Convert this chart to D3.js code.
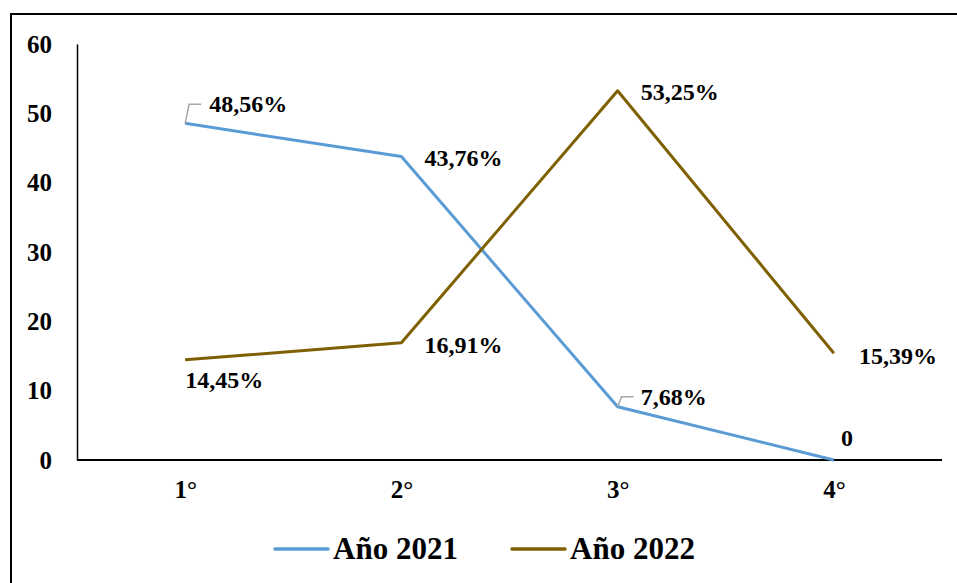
<!DOCTYPE html>
<html><head><meta charset="utf-8">
<script src="https://cdn.jsdelivr.net/npm/d3@7"></script>
<style>
html,body{margin:0;padding:0;background:#fff;}
svg{display:block;font-family:"Liberation Serif","Times New Roman",serif;font-weight:bold;}
</style></head>
<body>
<svg id="chart" width="957" height="583"></svg>
<script>
const categories = ["1°", "2°", "3°", "4°"];
const values2021 = [48.56, 43.76, 7.68, 0];
const values2022 = [14.45, 16.91, 53.25, 15.39];
const labels2021 = ["48,56%", "43,76%", "7,68%", "0"];
const labels2022 = ["14,45%", "16,91%", "53,25%", "15,39%"];
const yTicks = [0, 10, 20, 30, 40, 50, 60];
const seriesNames = ["Año 2021", "Año 2022"];

const colors = ["#5B9BD5", "#7F6000"];
// label offsets (dx, dy, anchor) relative to the point
const off2021 = [[24, -19, "start"], [23, 1, "start"], [23, -10, "start"], [13, -22, "middle"]];
const off2022 = [[0, 20, "start"], [23, 2, "start"], [23, 1, "start"], [25, 3, "start"]];

const svg = d3.select("#chart");
// outer frame (extends beyond the picture on right and bottom)
svg.append("rect").attr("x", 11).attr("y", 14).attr("width", 1000).attr("height", 700)
  .attr("fill", "none").attr("stroke", "#000").attr("stroke-width", 2);

const mLeft = 77, mRight = 942, mTop = 44, mBottom = 460;
const x = d3.scalePoint().domain(categories).range([mLeft, mRight]).padding(0.5);
const y = d3.scaleLinear().domain([0, 60]).range([mBottom, mTop]);

// y axis
const yAxis = d3.axisLeft(y).tickValues(yTicks).tickSize(0).tickPadding(25).tickFormat(d3.format("d"));
const gy = svg.append("g").attr("transform", `translate(${mLeft},0)`).call(yAxis);
gy.select(".domain").attr("stroke", "#000").attr("stroke-width", 1.5);
gy.selectAll("text").attr("font-size", 25).attr("font-family", "Liberation Serif").attr("font-weight", "bold").attr("fill", "#000");

// x axis
const xAxis = d3.axisBottom(x).tickSize(0).tickPadding(20);
const gx = svg.append("g").attr("transform", `translate(0,${mBottom})`).call(xAxis);
gx.select(".domain").attr("stroke", "#000").attr("stroke-width", 2).attr("d", `M${mLeft},0H${mRight}`);
gx.selectAll("text").attr("font-size", 25).attr("font-family", "Liberation Serif").attr("font-weight", "bold").attr("fill", "#000");

const line = d3.line().x((d, i) => x(categories[i])).y(d => y(d));
[values2021, values2022].forEach((vals, s) => {
  svg.append("path").datum(vals).attr("d", line).attr("fill", "none")
    .attr("stroke", colors[s]).attr("stroke-width", 3).attr("stroke-linejoin", "round");
});

// leader lines for 2021 labels 1 and 3
[0, 2].forEach(i => {
  const px = x(categories[i]), py = y(values2021[i]);
  const ly = py + off2021[i][1];
  svg.append("path").attr("d", `M${px},${py}L${px + 4},${ly}H${px + 16}`)
    .attr("fill", "none").attr("stroke", "#A6A6A6").attr("stroke-width", 1.5);
});

function addLabels(vals, labels, offs) {
  vals.forEach((v, i) => {
    svg.append("text").attr("x", x(categories[i]) + offs[i][0]).attr("y", y(v) + offs[i][1])
      .attr("dominant-baseline", "central").attr("text-anchor", offs[i][2])
      .attr("font-size", 24).attr("fill", "#000").text(labels[i]);
  });
}
addLabels(values2021, labels2021, off2021);
addLabels(values2022, labels2022, off2022);

// legend
const legX = [275, 512];
seriesNames.forEach((name, s) => {
  svg.append("line").attr("x1", legX[s]).attr("x2", legX[s] + 53).attr("y1", 549).attr("y2", 549)
    .attr("stroke", colors[s]).attr("stroke-width", 3.5).attr("stroke-linecap", "round");
  svg.append("text").attr("x", legX[s] + 58).attr("y", 559).attr("font-size", 31).attr("fill", "#000").text(name);
});
</script>
</body></html>
